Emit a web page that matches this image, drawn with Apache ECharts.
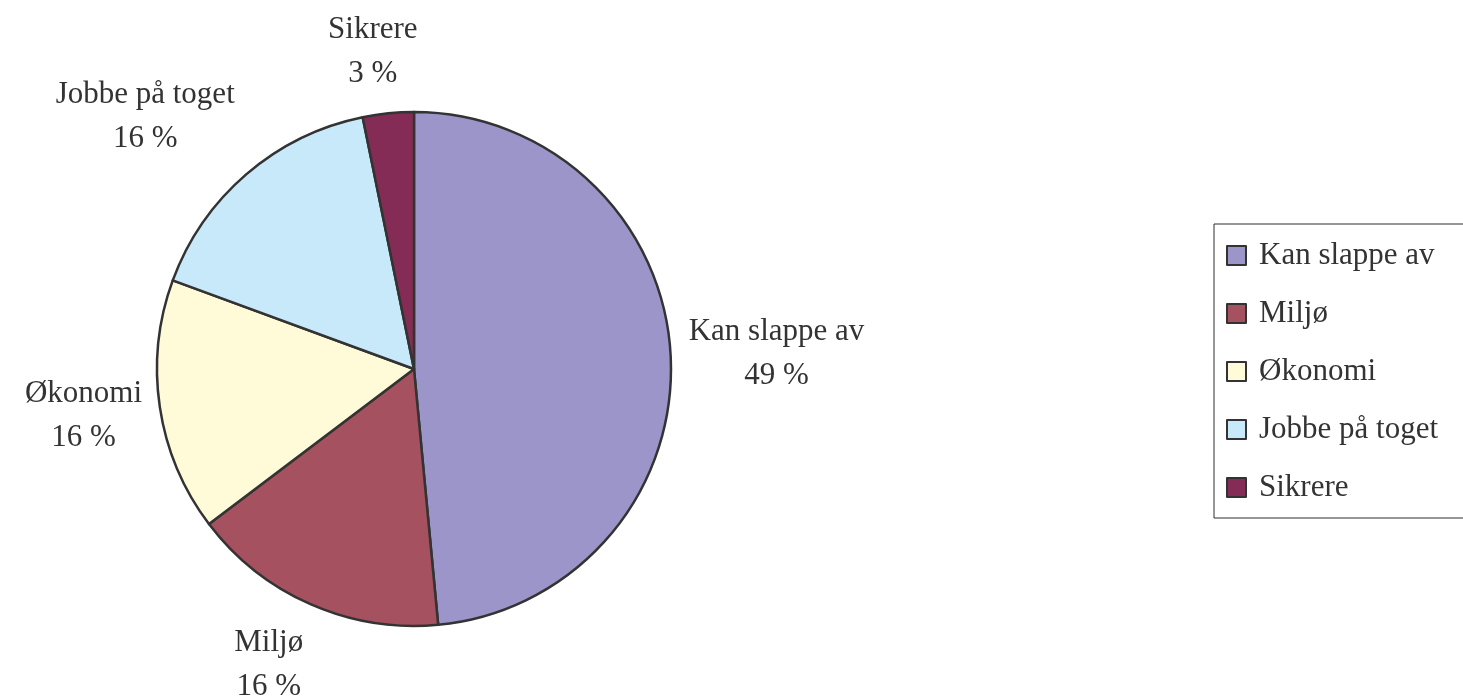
<!DOCTYPE html>
<html>
<head>
<meta charset="utf-8">
<script src="https://cdn.jsdelivr.net/npm/echarts@6/dist/echarts.min.js"></script>
<style>
  html, body { margin: 0; padding: 0; background: #fff; }
  #chart { width: 1463px; height: 699px; }
</style>
</head>
<body>
<div id="chart"></div>
<script>
// share of answers
const categories = ["Kan slappe av", "Miljø", "Økonomi", "Jobbe på toget", "Sikrere"];
const shares = [48.5, 16.2, 15.9, 16.2, 3.2];
const colors = ["#9b95c9", "#a5515f", "#fffad8", "#c8e9f9", "#842c55"];

const pieCenter = [414, 369];
const pieRadius = 257;
const labelGap = 18;

const chart = echarts.init(document.getElementById("chart"));

// push the label box out past the rim along the slice's middle direction,
// and centre the two lines on each other
const placeLabel = (params) => {
  const r = params.labelRect;
  const midY = r.y + r.height / 2;
  const leftSide = r.x + r.width / 2 < pieCenter[0];
  const px = leftSide ? r.x + r.width : r.x;
  const vx = px - pieCenter[0];
  const vy = midY - pieCenter[1];
  const m = Math.max(Math.abs(vx), Math.abs(vy));
  const sx = Math.max(-1, Math.min(1, (3 * vx) / m));
  const sy = vy / m;
  return {
    x: px + (sx * r.width) / 2,
    y: midY + (sy * r.height) / 2,
    align: "center",
    verticalAlign: "middle",
  };
};

chart.setOption({
  backgroundColor: "#ffffff",
  animation: false,
  color: colors,
  textStyle: { fontFamily: "Liberation Serif" },
  legend: {
    orient: "vertical",
    left: 1214,
    top: 224,
    padding: [16, 60, 15, 12],
    itemGap: 27,
    itemWidth: 19,
    itemHeight: 19,
    icon: "rect",
    borderColor: "#2e2e2e",
    borderWidth: 1,
    backgroundColor: "#fff",
    textStyle: {
      fontFamily: "Liberation Serif",
      fontSize: 31,
      lineHeight: 28,
      color: "#333",
      padding: [0, 0, 0, 8],
    },
    data: categories,
  },
  series: [
    {
      type: "pie",
      center: pieCenter,
      radius: pieRadius,
      startAngle: 90,
      clockwise: true,
      avoidLabelOverlap: false,
      percentPrecision: 0,
      itemStyle: {
        borderColor: "#333",
        borderWidth: 2.5,
      },
      label: {
        show: true,
        position: "outside",
        distanceToLabelLine: 0,
        formatter: "{b}\n{d} %",
        fontFamily: "Liberation Serif",
        fontSize: 31,
        lineHeight: 44,
        color: "#333",
      },
      labelLine: { show: false, length: labelGap, length2: 0 },
      labelLayout: placeLabel,
      emphasis: { disabled: true },
      data: categories.map((name, i) => ({ name, value: shares[i] })),
    },
  ],
});
</script>
</body>
</html>
